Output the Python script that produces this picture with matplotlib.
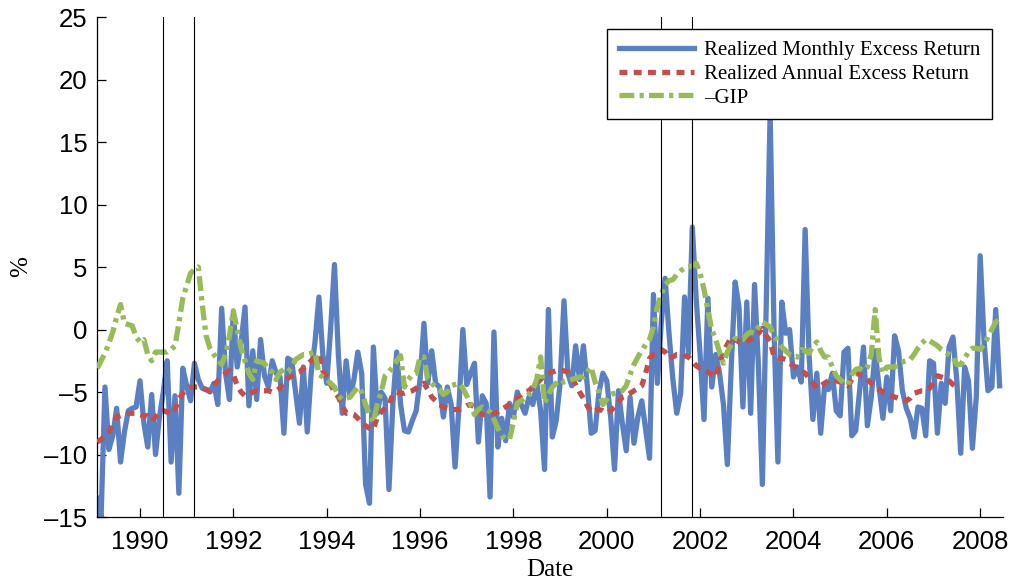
import matplotlib
matplotlib.use('Agg')
import matplotlib.pyplot as plt
import numpy as np

# monthly series, first month Feb 1989
start_year = 1989
start_month = 2

monthly = [
    -13.5, -15.0, -4.6, -9.6, -8.5, -6.3, -10.6, -8.2, -6.5, -6.3,
    -6.2, -4.1, -7.5, -9.4, -5.2, -10.0, -7.0, -5.0, -2.5, -10.6,
    -5.3, -13.1, -3.1, -4.5, -5.7, -2.7, -4.0, -4.7, -4.8, -5.0,
    -4.3, -6.0, 1.7, -3.5, -5.6, 1.4, -3.0, -1.0, 1.8, -6.1,
    -1.7, -5.6, -0.8, -3.7, -4.6, -2.5, -3.5, -3.8, -8.3, -2.3,
    -2.5, -5.0, -7.5, -3.0, -8.2, -3.5, -1.0, 2.6, -2.0, -4.3,
    0.0, 5.2, -2.0, -6.7, -2.5, -5.4, -4.0, -1.8, -3.5, -12.4,
    -13.9, -1.4, -6.7, -5.0, -5.5, -12.8, -6.0, -1.8, -6.0, -8.1,
    -8.2, -7.3, -6.5, -4.0, 0.5, -4.3, -1.7, -4.3, -4.6, -7.0,
    -4.6, -6.0, -11.0, -6.2, 0.0, -4.4, -3.5, -2.7, -9.0, -5.3,
    -5.9, -13.4, -0.2, -9.4, -7.1, -8.9, -5.9, -7.0, -5.0, -6.0,
    -6.7, -5.4, -6.0, -4.3, -6.5, -11.2, 1.6, -8.6, -7.3, -4.3,
    2.3, -3.5, -4.5, -1.3, -4.0, -1.3, -4.5, -8.3, -8.1, -5.0,
    -3.5, -4.1, -7.0, -11.2, -4.9, -7.5, -9.7, -5.4, -9.1, -7.0,
    -5.7, -8.0, -10.3, 2.8, -4.3, 0.5, 4.1, -0.3, -4.0, -6.7,
    -5.1, 2.6, -1.9, 8.2, 2.4, -2.0, -7.2, 2.5, -4.6, -2.0,
    -3.5, -6.0, -10.8, -3.0, 3.8, 1.8, -6.2, 2.2, -6.7, 3.6,
    -3.0, -12.4, 2.0, 17.3, 0.0, -10.6, 2.2, -0.3, 0.0, -3.8,
    -3.0, -4.2, 8.0, -2.0, -7.2, -3.5, -8.3, -4.5, -4.8, -3.5,
    -6.5, -6.9, -1.8, -1.5, -8.5, -8.1, -4.9, -1.4, -7.7, -5.4,
    -1.7, -4.6, -7.1, -3.8, -6.5, -0.5, -1.7, -4.9, -6.3, -7.1,
    -8.6, -6.2, -6.3, -8.5, -2.5, -2.7, -8.3, -4.3, -5.9, -1.4,
    -0.6, -4.1, -9.9, -3.0, -4.1, -9.5, -5.4, 5.9, -0.9, -4.9,
    -4.6, 1.6, -4.5,
]

annual = [
    -9.0, -8.8, -8.5, -8.2, -7.6, -7.0, -6.9, -6.8, -6.7, -6.7,
    -6.7, -6.8, -6.9, -6.9, -7.3, -7.0, -6.6, -6.5, -6.6, -6.8,
    -6.4, -5.6, -5.1, -4.8, -4.6, -4.6, -4.6, -4.7, -4.8, -4.9,
    -4.5, -4.1, -3.8, -3.5, -3.3, -3.6, -4.5, -5.0, -5.3, -5.2,
    -5.0, -4.9, -4.9, -4.9, -4.9, -5.0, -4.9, -4.7, -4.2, -3.9,
    -3.7, -3.5, -3.4, -3.1, -2.8, -2.5, -2.2, -2.0, -3.3, -3.8,
    -4.4, -5.0, -5.4, -6.1, -6.7, -6.7, -6.8, -7.1, -7.5, -7.7,
    -7.9, -8.0, -7.0, -6.6, -6.3, -6.0, -5.2, -5.0, -5.1, -5.1,
    -5.0, -4.9, -4.7, -4.5, -4.3, -4.8, -5.4, -5.7, -6.0, -6.2,
    -6.3, -6.4, -6.4, -6.4, -6.3, -6.1, -6.0, -6.2, -6.5, -6.8,
    -6.8, -6.8, -6.7, -6.6, -6.4, -6.2, -6.0, -5.7, -5.5, -5.2,
    -5.0, -4.9, -4.6, -4.3, -4.0, -3.6, -3.5, -3.4, -3.3, -3.3,
    -3.3, -3.4, -3.9, -4.4, -5.0, -5.5, -6.1, -6.6, -6.5, -6.4,
    -6.5, -6.7, -6.5, -6.2, -5.8, -5.4, -5.3, -5.1, -4.9, -4.7,
    -4.5, -3.5, -2.3, -2.0, -1.8, -1.6, -1.8, -2.3, -2.2, -2.0,
    -2.0, -2.1, -2.2, -2.5, -2.9, -3.1, -3.2, -3.4, -3.6, -3.8,
    -2.8, -1.7, -1.2, -0.6, -0.8, -1.0, -1.1, -0.9, -0.8, -0.6,
    -0.3, 0.1, -0.5, -0.9, -2.2, -2.3, -2.3, -2.4, -2.7, -2.9,
    -3.1, -3.3, -3.5, -3.9, -4.3, -4.7, -4.5, -4.3, -4.1, -4.0,
    -4.1, -4.2, -4.3, -4.5, -4.0, -3.5, -3.6, -3.7, -4.0, -4.3,
    -4.6, -4.8, -5.0, -5.1, -5.3, -5.4, -5.5, -5.6, -5.7, -5.5,
    -5.1, -5.0, -4.9, -4.9, -4.7, -4.2, -3.7, -3.8, -3.9, -4.1,
    -4.4, -4.6,
]

neg_gip = [
    -3.1, -2.5, -1.9, -1.1, -0.2, 1.0, 2.0, 0.5, 0.4, 0.3,
    -0.6, -1.0, -0.8, -2.0, -2.5, -1.8, -1.8, -1.8, -1.8, -1.6,
    -1.3, 0.5, 2.5, 3.5, 4.5, 4.8, 5.0, 2.0, -0.5, -1.5,
    -2.0, -2.4, -2.8, -2.0, -0.5, 1.5, 0.0, -1.5, -2.5, -3.5,
    -4.0, -2.5, -2.6, -2.7, -3.2, -3.4, -4.0, -3.4, -3.2, -3.4,
    -3.0, -2.4, -2.2, -2.0, -2.0, -1.9, -1.8, -3.6, -3.8, -4.0,
    -4.3, -4.6, -5.3, -5.6, -5.5, -5.4, -5.0, -4.6, -5.0, -6.0,
    -6.8, -7.4, -6.0, -5.0, -3.7, -3.4, -3.0, -2.5, -2.1, -4.6,
    -4.0, -3.6, -3.5, -2.2, -2.2, -4.0, -4.3, -4.6, -4.8, -5.2,
    -5.0, -4.5, -4.4, -4.3, -4.7, -5.3, -6.0, -6.8, -6.4, -6.2,
    -6.4, -6.6, -7.2, -7.9, -8.5, -8.7, -8.8, -7.4, -5.9, -5.7,
    -5.5, -5.2, -4.8, -4.0, -2.2, -5.9, -5.2, -4.6, -4.3, -4.0,
    -4.2, -4.1, -4.0, -3.9, -3.8, -3.8, -3.4, -3.0, -4.2, -5.0,
    -6.0, -5.6, -5.2, -5.1, -5.0, -4.9, -4.5, -3.6, -2.8, -2.2,
    -1.7, -1.2, -0.8, 0.2, 1.8, 2.8, 3.6, 3.9, 4.0, 4.4,
    4.7, 4.9, 5.0, 5.1, 5.3, 4.5, 3.2, 1.5, 0.0, -0.8,
    -1.8, -2.7, -1.8, -1.2, -0.7, -0.8, -0.8, -0.4, -0.2, -0.3,
    0.2, 0.6, 0.4, 0.2, -0.5, -0.9, -1.4, -1.7, -2.0, -2.1,
    -2.2, -1.6, -1.7, -1.9, -1.3, -1.0, -1.7, -2.2, -2.2, -3.0,
    -3.7, -4.0, -4.3, -4.4, -3.6, -3.2, -3.1, -3.3, -3.0, -2.0,
    1.6, -2.3, -3.5, -3.0, -3.0, -3.0, -2.7, -2.6, -2.5, -2.4,
    -2.0, -1.5, -1.1, -0.8, -0.9, -1.1, -1.3, -1.6, -1.8, -2.0,
    -2.2, -2.8, -2.8, -2.3, -1.8, -1.5, -1.5, -1.6, -1.2, -0.6,
    0.0, 0.6, 0.8,
]

# NBER recession start/end
recessions = [1990 + 7/12 - 1/12, 1991 + 3/12 - 1/12, 2001 + 3/12 - 1/12, 2001 + 11/12 - 1/12]

labels = ['Realized Monthly Excess Return', 'Realized Annual Excess Return', '\u2013GIP']

t0 = start_year + (start_month - 1) / 12.0
dates_m = t0 + np.arange(len(monthly)) / 12.0
dates_a = t0 + np.arange(len(annual)) / 12.0
dates_g = t0 + np.arange(len(neg_gip)) / 12.0

fig = plt.figure(figsize=(10.14, 5.8), dpi=100)
ax = fig.add_axes([0.0957, 0.1086, 0.8935, 0.862])

ax.plot(dates_m, monthly, color='#5B80C1', lw=3.8, label=labels[0], zorder=2)
ax.plot(dates_a, annual, color='#C44E4B', lw=3.8, dashes=(1.5, 1.2), label=labels[1], zorder=3)
ax.plot(dates_g, neg_gip, color='#97BB57', lw=3.8, dashes=(2.8, 1.0, 0.8, 1.0), label=labels[2], zorder=4)

for r in recessions:
    ax.axvline(r, color='black', lw=0.8, zorder=5)

ax.set_xlim(1989.08, 2008.49)
ax.set_ylim(-15, 25)
ax.set_xticks(np.arange(1990, 2009, 2))
ax.set_yticks(np.arange(-15, 26, 5))
ax.set_yticklabels(['\u2013' + str(-v) if v < 0 else str(v) for v in range(-15, 26, 5)])

for s in ['top', 'right']:
    ax.spines[s].set_visible(False)
for s in ['left', 'bottom']:
    ax.spines[s].set_linewidth(0.9)

ax.tick_params(direction='in', length=6.5, width=0.9, labelsize=18.5)
ax.tick_params(axis='x', pad=9)
ax.tick_params(axis='y', pad=7)
for lab in ax.get_xticklabels() + ax.get_yticklabels():
    lab.set_family('Liberation Sans')

ax.set_xlabel('Date', family='Liberation Serif', fontsize=18)
ax.set_ylabel('%', family='Liberation Serif', fontsize=18)
ax.xaxis.set_label_coords(0.5, -0.084)
ax.yaxis.set_label_coords(-0.072, 0.5)

leg = ax.legend(loc='upper right', bbox_to_anchor=(0.988, 0.976), borderaxespad=0,
                prop={'family': 'Liberation Serif', 'size': 15}, fancybox=False,
                edgecolor='black', framealpha=1, handlelength=3.6, labelspacing=0.2,
                borderpad=0.55, handletextpad=0.5)
leg.get_frame().set_linewidth(1.0)
leg.set_zorder(10)

fig.savefig('out.png', dpi=100)
